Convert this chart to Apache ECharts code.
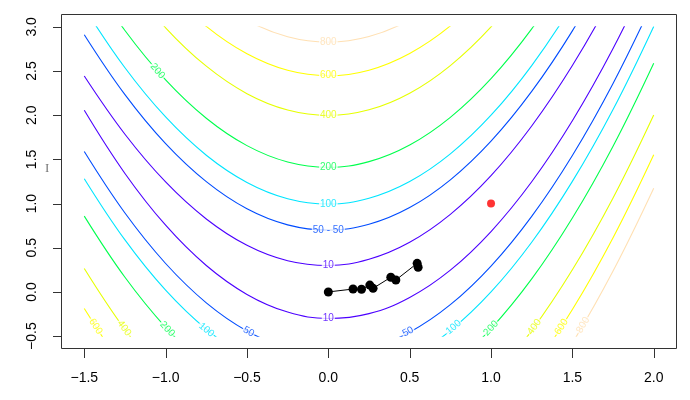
<!DOCTYPE html>
<html><head><meta charset="utf-8">
<script src="https://cdn.jsdelivr.net/npm/echarts@6/dist/echarts.min.js"></script>
<style>html,body{margin:0;padding:0;background:#fff}#c{width:690px;height:400px}</style>
</head><body><div id="c"></div>
<script>
// ---- data ----
const xs = [-1.5, -1.25, -1, -0.75, -0.5, -0.25, 0, 0.25, 0.5, 0.75, 1, 1.25, 1.5, 1.75, 2];
const levels = [10, 50, 100, 200, 400, 600, 800];
const up10  = [2.444, 1.785, 1.245, 0.826, 0.528, 0.353, 0.300, 0.370, 0.562, 0.878, 1.316, 1.878, 2.562, 3.370, 4.300];
const lo10  = [2.056, 1.341, 0.755, 0.299, -0.028, -0.228, -0.300, -0.245, -0.062, 0.247, 0.684, 1.247, 1.938, 2.755, 3.700];
const up50  = [2.911, 2.233, 1.678, 1.248, 0.941, 0.759, 0.700, 0.766, 0.955, 1.269, 1.707, 2.270, 2.955, 3.766, 4.700];
const lo50  = [1.589, 0.893, 0.322, -0.123, -0.441, -0.634, -0.700, -0.641, -0.455, -0.144, 0.293, 0.856, 1.545, 2.360, 3.300];
const up100 = [3.218, 2.537, 1.980, 1.547, 1.239, 1.055, 0.995, 1.060, 1.249, 1.562, 2.000, 2.562, 3.249, 4.060, 4.995];
const lo100 = [1.282, 0.589, 0.020, -0.422, -0.739, -0.930, -0.995, -0.935, -0.749, -0.437, 0.000, 0.562, 1.251, 2.065, 3.005];
const up200 = [3.642, 2.959, 2.400, 1.966, 1.656, 1.471, 1.411, 1.475, 1.663, 1.976, 2.414, 2.977, 3.663, 4.475, 5.411];
const lo200 = [0.858, 0.166, -0.400, -0.841, -1.156, -1.346, -1.411, -1.350, -1.163, -0.851, -0.414, 0.148, 0.837, 1.650, 2.589];
const up400 = [4.234, 3.550, 2.990, 2.555, 2.244, 2.059, 1.998, 2.061, 2.249, 2.562, 3.000, 3.562, 4.249, 5.061, 5.998];
const lo400 = [0.266, -0.425, -0.990, -1.430, -1.744, -1.934, -1.998, -1.937, -1.749, -1.437, -1.000, -0.437, 0.251, 1.064, 2.003];
const up600 = [4.687, 4.001, 3.441, 3.005, 2.695, 2.508, 2.447, 2.510, 2.699, 3.011, 3.449, 4.011, 4.699, 5.510, 6.447];
const lo600 = [-0.187, -0.877, -1.441, -1.881, -2.195, -2.384, -2.447, -2.386, -2.199, -1.887, -1.449, -0.887, -0.199, 0.614, 1.553];
const up800 = [5.067, 4.382, 3.821, 3.386, 3.074, 2.888, 2.827, 2.890, 3.078, 3.391, 3.828, 4.391, 5.078, 5.890, 6.827];
const lo800 = [-0.567, -1.257, -1.821, -2.261, -2.574, -2.763, -2.827, -2.765, -2.578, -2.266, -1.828, -1.266, -0.578, 0.236, 1.173];
const uppers = [up10, up50, up100, up200, up400, up600, up800];
const lowers = [lo10, lo50, lo100, lo200, lo400, lo600, lo800];

// contour label annotations
const labelText  = ['800', '600', '400', '200', '100', '50 - 50', '10', '10', '200', '600', '400', '200', '100', '50', '50', '100', '200', '400', '600', '800'];
const labelLevel = [6, 5, 4, 3, 2, 1, 0, 0, 3, 5, 4, 3, 2, 1, 1, 2, 3, 4, 5, 6];
const labelX = [0, 0, 0, 0, 0, 0, 0, 0, -1.05, -1.43, -1.255, -0.99, -0.75, -0.49, 0.49, 0.77, 1.0, 1.267, 1.433, 1.566];
const labelY = [2.827, 2.447, 1.998, 1.411, 0.995, 0.70, 0.30, -0.30, 2.50, -0.39, -0.41, -0.42, -0.43, -0.45, -0.45, -0.40, -0.41, -0.395, -0.395, -0.375];

// optimizer path and optimum
const trajX = [0, 0.152, 0.204, 0.255, 0.275, 0.384, 0.415, 0.546, 0.552];
const trajY = [0, 0.033, 0.030, 0.078, 0.041, 0.166, 0.135, 0.324, 0.279];
const optX = [1];
const optY = [1];

// ticks
const xTickVals = [-1.5, -1.0, -0.5, 0.0, 0.5, 1.0, 1.5, 2.0];
const yTickVals = [-0.5, 0.0, 0.5, 1.0, 1.5, 2.0, 2.5, 3.0];
const xRange = [-1.5, 2];      // contour grid extent
const yRange = [-0.5, 3];
const xUsr = [-1.64, 2.14];    // plot region (4% padding)
const yUsr = [-0.64, 3.14];

// ---- styles / layout ----
const levelColors = ['#4C00FF', '#004CFF', '#00E5FF', '#00FF4D', '#E6FF00', '#FFFF00', '#FFE0B3'];
const labelRot = [0, 0, 0, 0, 0, 0, 0, 0, -49, -57, -54, -47, -40, -28, 28, 40, 47, 54, 57, 60];
const FONT = '"Liberation Sans", Arial, Helvetica, sans-serif';
const TICK = 9;
const P = { left: 61.5, top: 14.5, width: 615, height: 334 };
const sx = P.width / (xUsr[1] - xUsr[0]);
const sy = P.height / (yUsr[1] - yUsr[0]);
const inner = {
  left: P.left + (xRange[0] - xUsr[0]) * sx,
  width: (xRange[1] - xRange[0]) * sx,
  top: P.top + (yUsr[1] - yRange[1]) * sy,
  height: (yRange[1] - yRange[0]) * sy
};

const fmt = v => (v < 0 ? '\u2212' : '') + Math.abs(v).toFixed(1);

const series = [];
levels.forEach((L, i) => {
  [uppers[i], lowers[i]].forEach(ys => {
    series.push({
      type: 'line', xAxisIndex: 1, yAxisIndex: 1,
      data: xs.map((x, j) => [x, ys[j]]),
      symbol: 'none', smooth: 0.4, clip: true, silent: true,
      lineStyle: { color: levelColors[i], width: 1.1 }, z: 2
    });
  });
});
series.push({
  type: 'scatter', xAxisIndex: 0, yAxisIndex: 0, silent: true, z: 5,
  symbol: 'circle', symbolSize: 1, itemStyle: { color: 'rgba(0,0,0,0)' },
  data: labelText.map((t, k) => ({
    name: t, value: [labelX[k], labelY[k]],
    label: { rotate: labelRot[k], color: levelColors[labelLevel[k]] }
  })),
  label: {
    show: true, position: 'inside', formatter: '{b}', fontSize: 10, fontFamily: FONT,
    backgroundColor: '#fff', padding: [0, 1]
  }
});
series.push({
  type: 'line', xAxisIndex: 0, yAxisIndex: 0, silent: true, z: 6,
  data: trajX.map((x, i) => [x, trajY[i]]),
  symbol: 'circle', symbolSize: 9, showAllSymbol: true,
  itemStyle: { color: '#000' }, lineStyle: { color: '#000', width: 1 }
});
series.push({
  type: 'scatter', xAxisIndex: 0, yAxisIndex: 0, silent: true, z: 6,
  data: optX.map((x, i) => [x, optY[i]]),
  symbol: 'circle', symbolSize: 8, itemStyle: { color: '#FF0000' }
});

// tick marks outside the plot box, as thin filled rects (same linear mapping as the plot-region axes)
const tickEls = [];
const bottomY = Math.round(P.top + P.height);
const leftX = Math.round(P.left);
xTickVals.forEach(v => {
  const x = Math.round(P.left + (v - xUsr[0]) * sx);
  tickEls.push({ type: 'rect', silent: true, z: 100, shape: { x: x, y: bottomY, width: 1, height: TICK }, style: { fill: '#333' } });
});
yTickVals.forEach(v => {
  const y = Math.round(P.top + (yUsr[1] - v) * sy);
  tickEls.push({ type: 'rect', silent: true, z: 100, shape: { x: leftX - TICK, y: y, width: TICK, height: 1 }, style: { fill: '#333' } });
});
tickEls.push({ type: 'text', left: 45, top: 162, silent: true, style: { text: 'I', fontSize: 13, fontFamily: '"Liberation Serif", serif', fill: '#777' } });

const chart = echarts.init(document.getElementById('c'), null, { renderer: 'canvas' });
chart.setOption({
  animation: false,
  backgroundColor: '#fff',
  grid: [
    Object.assign({ show: true, borderColor: '#333', borderWidth: 1, backgroundColor: 'transparent' }, P),
    Object.assign({ show: false }, inner)
  ],
  xAxis: [
    { gridIndex: 0, type: 'value', min: xUsr[0], max: xUsr[1], position: 'bottom',
      axisLine: { show: false, onZero: false }, splitLine: { show: false }, axisTick: { show: false },
      axisLabel: { show: true, customValues: xTickVals, margin: 23, fontSize: 14, color: '#000', fontFamily: FONT, formatter: fmt } },
    { gridIndex: 1, type: 'value', min: xRange[0], max: xRange[1], show: false }
  ],
  yAxis: [
    { gridIndex: 0, type: 'value', min: yUsr[0], max: yUsr[1], position: 'left',
      axisLine: { show: false, onZero: false }, splitLine: { show: false }, axisTick: { show: false },
      axisLabel: { show: true, customValues: yTickVals, rotate: 90, margin: 22, fontSize: 14, color: '#000', fontFamily: FONT, formatter: fmt } },
    { gridIndex: 1, type: 'value', min: yRange[0], max: yRange[1], show: false }
  ],
  graphic: tickEls,
  series: series
});
</script></body></html>
